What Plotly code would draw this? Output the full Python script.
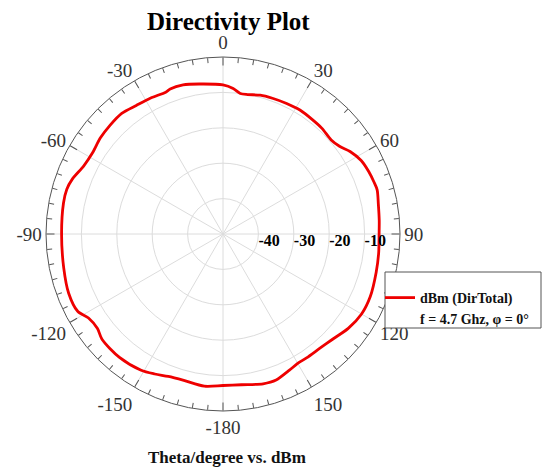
import plotly.graph_objects as go

# ---- data ----
theta_deg = [0, 4, 7, 10, 15, 20, 26, 32, 38, 43, 49, 53, 57, 62, 67, 71, 74, 79, 85, 90,
             97, 104, 113, 120, 127, 134, 140, 146, 150, 154, 160, 165, 173, 180,
             187, 195, 201, 206, 211, 220, 229, 233, 238, 242, 249, 258, 270,
             281, 286, 290, 296, 302, 308, 314, 320, 326, 332, 338, 340, 345, 351, 360]
dbm = [-7.9, -8.8, -10.0, -10.0, -9.4, -9.2, -9.0, -8.8, -9.0, -9.1, -9.5, -8.8, -7.2, -5.8, -5.2, -4.9, -4.7, -5.3, -5.7, -5.9,
       -5.7, -5.4, -4.8, -4.8, -5.7, -7.1, -7.7, -7.8, -7.8, -7.2, -6.1, -6.2, -7.1, -7.2,
       -6.7, -7.2, -6.9, -6.0, -5.1, -4.5, -4.7, -5.6, -5.2, -3.5, -3.3, -4.0, -4.4,
       -4.1, -4.1, -4.7, -6.2, -6.6, -6.0, -5.7, -5.5, -6.2, -6.5, -6.8, -6.4, -6.4, -7.1, -7.9]

angular_ticks = [0, 30, 60, 90, 120, 150, 180, 210, 240, 270, 300, 330]
angular_labels = ["0", "30", "60", "90", "120", "150", "-180", "-150", "-120", "-90", "-60", "-30"]
minor_ticks = [a for a in range(0, 360, 5) if a % 30 != 0]
radial_ticks = [-40, -30, -20, -10]
radial_labels = ["-40", "-30", "-20", "-10"]
radial_range = [-50, 0]

series_name = "dBm (DirTotal)"
note_name = "f = 4.7 Ghz, φ = 0°"
title_text = "Directivity Plot"
xlabel_text = "Theta/degree vs. dBm"

SERIF = "Liberation Serif, Times New Roman, serif"

# page body has an 8px default margin; the figure is sized to fill the rest
OFF = 8
W, H = 550 - OFF, 475 - OFF


def px(xs):
    return (xs - OFF) / W


def py(ys):
    return 1 - (ys - OFF) / H


fig = go.Figure()

fig.add_trace(go.Scatterpolar(
    r=dbm, theta=theta_deg, mode="lines", name=series_name,
    line=dict(color="#ee0000", width=2.8, shape="spline", smoothing=0.8),
    subplot="polar",
))
fig.add_trace(go.Scatterpolar(
    r=[None], theta=[None], mode="lines", name=note_name,
    line=dict(color="rgba(0,0,0,0)", width=1), subplot="polar",
))
fig.add_trace(go.Scatterpolar(
    r=radial_ticks, theta=[90] * len(radial_ticks), mode="text",
    text=[f"<b>{t}</b>" for t in radial_labels],
    textposition="bottom right", showlegend=False, hoverinfo="skip",
    textfont=dict(family=SERIF, size=16, color="#000000"), subplot="polar",
))
fig.add_trace(go.Scatterpolar(
    r=[None], theta=[None], mode="lines", showlegend=False, hoverinfo="skip",
    subplot="polar2",
))

cx, cy, R = 223, 234, 177
dom_x = [px(cx - R), px(cx + R)]
dom_y = [py(cy + R), py(cy - R)]

box = dict(x0=385, x1=541, y0=272, y1=328)
edge = dict(color="#555555", width=1)

fig.update_layout(
    width=W, height=H,
    template="none",
    paper_bgcolor="white",
    margin=dict(l=0, r=0, t=0, b=0),
    font=dict(family=SERIF, color="#333333"),
    polar=dict(
        domain=dict(x=dom_x, y=dom_y),
        bgcolor="white",
        angularaxis=dict(
            rotation=90, direction="clockwise",
            tickmode="array", tickvals=angular_ticks, ticktext=angular_labels,
            ticks="inside", ticklen=8, tickwidth=1, tickcolor="#555555",
            showline=True, linecolor="#555555", linewidth=1,
            showgrid=True, gridcolor="#dcdcdc", gridwidth=1,
            tickfont=dict(family=SERIF, size=19, color="#333333"),
        ),
        radialaxis=dict(
            range=radial_range, tickmode="array", tickvals=radial_ticks,
            showticklabels=False, ticks="", showline=False,
            showgrid=True, gridcolor="#dcdcdc", gridwidth=1, angle=0,
        ),
    ),
    polar2=dict(
        domain=dict(x=dom_x, y=dom_y),
        bgcolor="rgba(0,0,0,0)",
        angularaxis=dict(
            rotation=90, direction="clockwise",
            tickmode="array", tickvals=minor_ticks, showticklabels=False,
            ticks="inside", ticklen=5, tickwidth=1, tickcolor="#555555",
            showline=False, showgrid=False,
        ),
        radialaxis=dict(range=radial_range, visible=False, showgrid=False),
    ),
    showlegend=True,
    legend=dict(
        x=px(380), y=py(282), xanchor="left", yanchor="top",
        bgcolor="rgba(0,0,0,0)", borderwidth=0,
        font=dict(family=SERIF, size=14, color="#111111", weight="bold"),
        itemwidth=30, tracegroupgap=0,
    ),
    shapes=[
        dict(type="rect", xref="paper", yref="paper",
             x0=px(box["x0"]), x1=px(box["x1"]), y0=py(box["y1"]), y1=py(box["y0"]),
             line=dict(width=0), fillcolor="white", layer="above"),
        dict(type="line", xref="paper", yref="paper",
             x0=px(box["x0"]), x1=px(box["x0"]), y0=py(box["y1"]), y1=py(box["y0"]),
             line=edge, layer="above"),
        dict(type="line", xref="paper", yref="paper",
             x0=px(box["x1"]), x1=px(box["x1"]), y0=py(box["y1"]), y1=py(box["y0"]),
             line=edge, layer="above"),
        dict(type="line", xref="paper", yref="paper",
             x0=px(box["x0"]), x1=px(box["x1"]), y0=py(box["y0"]), y1=py(box["y0"]),
             line=edge, layer="above"),
        dict(type="line", xref="paper", yref="paper",
             x0=px(box["x0"]), x1=px(box["x1"]), y0=py(box["y1"]), y1=py(box["y1"]),
             line=edge, layer="above"),
    ],
    annotations=[
        dict(text=f"<b>{title_text}</b>", x=px(228), y=py(21.5), xref="paper", yref="paper",
             xanchor="center", yanchor="middle", showarrow=False,
             font=dict(family=SERIF, size=25, color="#000000")),
        dict(text=f"<b>{xlabel_text}</b>", x=px(227), y=py(457), xref="paper", yref="paper",
             xanchor="center", yanchor="middle", showarrow=False,
             font=dict(family=SERIF, size=17, color="#111111")),
    ],
)

fig.write_html("out.html")
